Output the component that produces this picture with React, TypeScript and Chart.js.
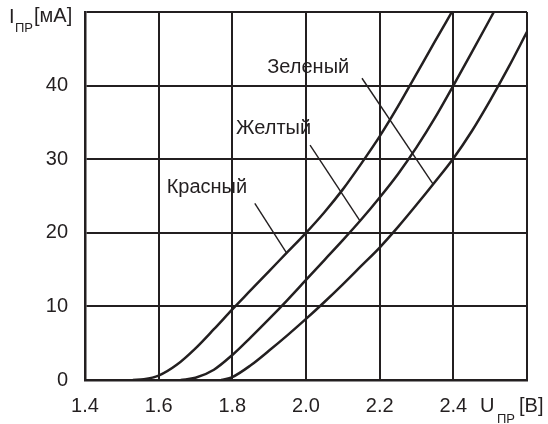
import React, { useEffect, useRef } from "react";
import { Chart, registerables } from "chart.js";

Chart.register(...registerables);

// Forward voltage (V) and forward current (mA) for each LED colour
const redVoltage = [1.53, 1.56, 1.6, 1.65, 1.7, 1.75, 1.8, 1.85, 1.9, 1.95, 2.0, 2.05, 2.1, 2.15, 2.2, 2.25, 2.3, 2.35, 2.396];
const redCurrent = [0, 0.1, 0.6, 2.1, 4.3, 6.9, 9.6, 12.2, 14.8, 17.4, 20.0, 22.8, 25.9, 29.4, 33.1, 37.2, 41.6, 46.0, 50];

const yellowVoltage = [1.66, 1.7, 1.75, 1.8, 1.85, 1.9, 1.95, 2.0, 2.05, 2.1, 2.15, 2.2, 2.25, 2.3, 2.35, 2.4, 2.45, 2.51];
const yellowCurrent = [0, 0.3, 1.4, 3.4, 5.8, 8.3, 10.9, 13.6, 16.3, 19.0, 21.8, 24.8, 28.0, 31.6, 35.6, 40.0, 44.5, 50];

const greenVoltage = [1.77, 1.8, 1.85, 1.9, 1.95, 2.0, 2.05, 2.1, 2.15, 2.2, 2.25, 2.3, 2.35, 2.4, 2.45, 2.5, 2.55, 2.6];
const greenCurrent = [0, 0.4, 2.0, 4.0, 6.1, 8.3, 10.6, 13.0, 15.5, 18.0, 20.8, 23.8, 26.9, 30.1, 33.8, 38.0, 42.5, 47.3];

const seriesNames = ["Красный", "Желтый", "Зеленый"];

// Curve labels: text anchor and leader line (data units)
const labelAnchors = [
  { x: 1.731, y: 26.2, lx1: 1.861, ly1: 24.0, lx2: 1.948, ly2: 17.2 },
  { x: 1.912, y: 34.2, lx1: 2.011, ly1: 31.9, lx2: 2.147, ly2: 21.6 },
  { x: 2.006, y: 42.5, lx1: 2.152, ly1: 41.0, lx2: 2.345, ly2: 26.6 },
];

const xMin = 1.4;
const xMax = 2.6;
const xStep = 0.2;
const yMin = 0;
const yMax = 50;
const yStep = 10;

const INK = "#231f20";
const FONT = "'Liberation Sans', Arial, Helvetica, sans-serif";

const zip = (xs: number[], ys: number[]) => xs.map((x, i) => ({ x, y: ys[i] }));

const labelsPlugin = {
  id: "curveLabels",
  afterDraw(chart: any) {
    const { ctx, scales } = chart;
    const xs = scales.x;
    const ys = scales.y;
    ctx.save();
    ctx.fillStyle = INK;
    ctx.strokeStyle = INK;
    ctx.textAlign = "center";
    ctx.textBaseline = "middle";
    ctx.font = `20px ${FONT}`;
    labelAnchors.forEach((a, i) => {
      ctx.fillText(seriesNames[i], xs.getPixelForValue(a.x), ys.getPixelForValue(a.y));
      ctx.lineWidth = 1.4;
      ctx.beginPath();
      ctx.moveTo(xs.getPixelForValue(a.lx1), ys.getPixelForValue(a.ly1));
      ctx.lineTo(xs.getPixelForValue(a.lx2), ys.getPixelForValue(a.ly2));
      ctx.stroke();
    });

    // Axis titles
    ctx.textAlign = "left";
    ctx.textBaseline = "alphabetic";
    ctx.font = `20px ${FONT}`;
    ctx.fillText("I", 9, 23);
    ctx.font = `13px ${FONT}`;
    ctx.fillText("ПР", 15, 32);
    ctx.font = `20px ${FONT}`;
    ctx.fillText("[мА]", 34, 22);

    ctx.font = `20px ${FONT}`;
    ctx.fillText("U", 480, 412);
    ctx.font = `13px ${FONT}`;
    ctx.fillText("ПР", 497, 423);
    ctx.font = `20px ${FONT}`;
    ctx.fillText("[В]", 519, 412);
    ctx.restore();
  },
};

export default function App() {
  const canvasRef = useRef<HTMLCanvasElement>(null);

  useEffect(() => {
    if (!canvasRef.current) return;
    const lineStyle = {
      showLine: true,
      borderColor: INK,
      backgroundColor: INK,
      borderWidth: 2.5,
      pointRadius: 0,
      cubicInterpolationMode: "monotone" as const,
      fill: false,
    };
    const chart = new Chart(canvasRef.current, {
      type: "scatter",
      data: {
        datasets: [
          { label: seriesNames[0], data: zip(redVoltage, redCurrent), ...lineStyle },
          { label: seriesNames[1], data: zip(yellowVoltage, yellowCurrent), ...lineStyle },
          { label: seriesNames[2], data: zip(greenVoltage, greenCurrent), ...lineStyle },
        ],
      },
      options: {
        responsive: false,
        animation: false,
        devicePixelRatio: 1,
        layout: { padding: { top: 12, right: 21, left: 0, bottom: 0 } },
        plugins: { legend: { display: false }, tooltip: { enabled: false } },
        scales: {
          x: {
            type: "linear",
            min: xMin,
            max: xMax,
            afterFit: (s: any) => {
              s.height = 44;
              s.paddingLeft = 0;
              s.paddingRight = 0;
            },
            ticks: {
              stepSize: xStep,
              color: INK,
              padding: 14,
              font: { size: 20, family: FONT },
              maxRotation: 0,
              callback: (v: any) => (Math.abs(Number(v) - xMax) < 1e-6 ? "" : Number(v).toFixed(1)),
            },
            grid: { color: INK, lineWidth: 2, drawTicks: false },
            border: { display: true, color: INK, width: 2.5 },
          },
          y: {
            type: "linear",
            min: yMin,
            max: yMax,
            afterFit: (s: any) => {
              s.width = 85;
              s.paddingTop = 0;
              s.paddingBottom = 0;
            },
            ticks: {
              stepSize: yStep,
              color: INK,
              padding: 17,
              font: { size: 20, family: FONT },
              callback: (v: any) => (Number(v) === yMax ? "" : String(v)),
            },
            grid: { color: INK, lineWidth: 2, drawTicks: false },
            border: { display: true, color: INK, width: 2.5 },
          },
        },
      },
      plugins: [labelsPlugin],
    });
    return () => chart.destroy();
  }, []);

  return (
    <div style={{ position: "fixed", left: 0, top: 0, width: 548, height: 424, background: "#fff" }}>
      <canvas ref={canvasRef} width={548} height={424} />
    </div>
  );
}
